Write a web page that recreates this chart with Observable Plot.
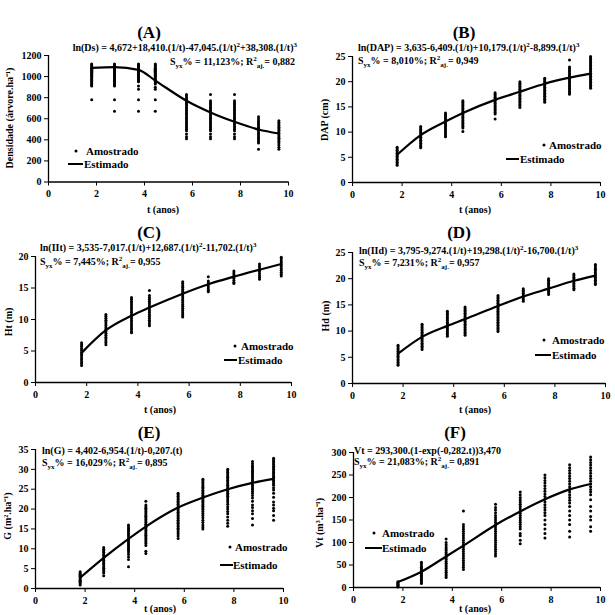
<!DOCTYPE html>
<html><head><meta charset="utf-8">
<script src="https://cdn.jsdelivr.net/npm/d3@7"></script>
<script src="https://cdn.jsdelivr.net/npm/@observablehq/plot@0.6"></script>
<style>
html,body{margin:0;padding:0;background:#fff;overflow:hidden}
#fig{position:relative;width:615px;height:615px;overflow:hidden;font-family:"Liberation Serif","Times New Roman",serif;font-weight:bold;color:#000;background:#fff}
.abs{position:absolute;white-space:nowrap;line-height:1}
.title{font-size:17px;transform:translate(-50%,-50%)}
.eq{font-size:10px;transform:translate(0,-50%)}
.eq.r{transform:translate(-100%,-50%)}
.eq sup,.eq sub{font-size:7px;line-height:0}
.leg{font-size:11px;transform:translate(0,-50%)}
.ylab{font-size:10px;transform:translate(-50%,-50%) rotate(-90deg)}
.xlab{font-size:10px;transform:translate(-50%,-50%)}
.dotk{position:absolute;width:3px;height:3px;border-radius:50%;background:#000;transform:translate(-50%,-50%)}
.linek{position:absolute;height:2px;background:#000;transform:translate(0,-50%)}
.pan{position:absolute}
</style></head>
<body><div id="fig"></div>
<script>
// ages (years) of the measurement columns
const tYears = [1.8, 2.75, 3.75, 4.45, 5.75, 6.75, 7.75, 8.75, 9.6];

// (A) Densidade
const dsObs = [
  [1120,1110,1100,1090,1080,1070,1060,1050,1040,1030,1020,1010,1000,990,980,970,960,950,940,930,920,910,780],
  [1120,1110,1100,1090,1080,1070,1060,1050,1040,1030,1020,1010,1000,990,980,970,960,950,940,930,920,910,780,670],
  [1120,1110,1100,1090,1080,1070,1060,1050,1040,1030,1020,1010,1000,990,980,970,960,950,910,880,780,670],
  [1120,1110,1100,1090,1080,1070,1060,1050,1040,1030,1020,1010,1000,990,980,970,960,950,940,930,900,880,780,670],
  [830,815,800,785,770,755,740,725,710,695,680,665,650,635,620,605,590,575,560,545,530,515,500,485,455,430,410],
  [830,770,755,740,725,710,695,680,665,650,635,620,605,590,575,560,545,530,515,500,485,455,430,410],
  [830,770,755,740,725,710,695,680,665,650,635,620,605,590,575,560,545,530,515,500,485,455,430,410],
  [620,600,580,565,550,535,520,505,490,475,460,445,430,415,400,385,370,310],
  [580,565,550,535,520,505,490,475,460,445,430,415,400,385,370,350,330,310]
];
const dsFit = [1083, 1089, 1064, 962, 771, 660, 571, 498, 460];

// (B) DAP
const dapObs = [
  [7.0,6.7,6.4,6.1,5.8,5.5,5.2,4.9,4.6,4.3,4.0,3.7,3.4],
  [11.1,10.8,10.5,10.2,9.9,9.6,9.3,9.0,8.7,8.4,8.1,7.8,7.5,7.2,6.9],
  [13.8,13.5,13.2,12.9,12.6,12.3,12.0,11.7,11.4,11.1,10.8,10.5,10.2,9.9,9.6,9.3,9.1],
  [16.2,15.9,15.6,15.3,15.0,14.7,14.4,14.1,13.8,13.5,13.2,12.9,12.6,12.3,12.0,11.7,11.4,11.1,10.8,10.1],
  [17.8,17.5,17.2,16.9,16.6,16.3,16.0,15.7,15.4,15.1,14.8,14.5,14.2,13.9,13.6,12.6],
  [20.0,19.7,19.4,19.1,18.8,18.5,18.2,17.9,17.6,17.3,17.0,16.7,16.4,16.1,15.8,15.5,15.2,14.9],
  [20.7,20.4,20.1,19.8,19.5,19.2,18.9,18.6,18.3,18.0,17.7,17.4,17.1,16.8,16.5,16.2,15.9],
  [24.3,22.9,22.6,22.3,22.0,21.7,21.4,21.1,20.8,20.5,20.2,19.9,19.6,19.3,19.0,18.7,18.4,18.1,17.8,17.5],
  [25.0,24.7,24.4,24.1,23.8,23.5,23.2,22.9,22.6,22.3,22.0,21.7,21.4,21.1,20.8,20.5,20.2,19.9,19.6,19.3,19.0,18.7]
];
const dapFit = [5.5, 9.4, 12.1, 13.8, 16.4, 18.0, 19.6, 20.8, 21.6];

// (C) Ht
const htObs = [
  [6.3,6.0,5.7,5.4,5.1,4.8,4.5,4.2,3.9,3.6,3.3,3.0,2.7],
  [10.8,10.5,10.2,9.9,9.6,9.3,9.0,8.7,8.4,8.1,7.8,7.5,7.2,6.9,6.6,6.3,6.0],
  [13.5,13.2,12.9,12.6,12.3,12.0,11.7,11.4,11.1,10.8,10.5,10.2,9.9,9.6,9.3,9.0,8.7,8.4,8.1,7.9],
  [14.6,13.8,13.5,13.2,12.9,12.6,12.3,12.0,11.7,11.4,11.1,10.8,10.5,10.2,9.9,9.6,9.3,9.0],
  [16.0,15.7,15.4,15.1,14.8,14.5,14.2,13.9,13.6,13.3,13.0,12.7,12.4,12.1,11.8,11.5,11.2,10.9,10.6,10.4],
  [16.8,16.1,15.8,15.5,15.2,14.9,14.6,14.4],
  [17.7,17.4,17.1,16.8,16.5,16.2,15.9,15.7],
  [18.8,18.5,18.2,17.9,17.6,17.3,17.0,16.7,16.4],
  [19.9,19.6,19.3,19.0,18.7,18.4,18.1,17.8,17.5,17.2,16.9]
];
const htFit = [4.7, 8.3, 10.6, 11.9, 14.1, 15.6, 16.8, 17.9, 18.8];

// (D) Hd
const hdObs = [
  [7.3,7.0,6.7,6.4,6.1,5.8,5.5,5.2,4.9,4.6,4.3,4.0,3.7,3.5],
  [11.3,11.0,10.7,10.4,10.1,9.8,9.5,9.2,8.9,8.6,8.3,8.0,7.7,7.4,7.1,6.8,6.5],
  [13.8,13.5,13.2,12.9,12.6,12.3,12.0,11.7,11.4,11.1,10.8,10.5,10.2,9.9,9.6,9.3,9.0],
  [14.6,14.3,14.0,13.7,13.4,13.1,12.8,12.5,12.2,11.9,11.6,11.3,11.0,10.7,10.4,10.1,9.8,9.5,9.2],
  [16.8,16.5,16.2,15.9,15.6,15.3,15.0,14.7,14.4,14.1,13.8,13.5,13.2,12.9,12.6,12.3,12.0,11.7,11.4,11.1,10.8,10.5,10.2,9.9],
  [18.1,17.8,17.5,17.2,16.9,16.6,16.3,16.0,15.7],
  [20.0,19.7,19.4,19.1,18.8,18.5,18.2,17.9,17.6,17.3,17.0],
  [20.9,20.6,20.3,20.0,19.7,19.4,19.1,18.8,18.5,18.2,17.9],
  [22.7,22.4,22.1,21.8,21.5,21.2,20.9,20.6,20.3,20.0,19.7,19.4,19.1,18.9]
];
const hdFit = [5.7, 8.9, 11.0, 12.3, 14.8, 16.6, 18.1, 19.6, 20.6];

// (E) G
const gObs = [
  [4.2,3.9,3.6,3.3,3.0,2.7,2.4,2.1,1.8,1.5,1.2,0.9],
  [10.3,9.9,9.5,9.1,8.7,8.3,7.9,7.5,7.1,6.7,6.3,5.9,5.5,5.1,4.7,4.3,3.9,3.2],
  [16.0,15.6,15.2,14.8,14.4,14.0,13.6,13.2,12.8,12.4,12.0,11.6,11.2,10.8,10.4,10.0,9.6,9.2,8.6,8.0,7.3,5.5],
  [22.0,21.0,20.6,20.2,19.8,19.4,19.0,18.6,18.2,17.8,17.4,17.0,16.6,16.2,15.8,15.4,15.0,14.6,14.2,13.8,13.4,13.0,12.6,12.2,11.8,11.3,10.8,9.4,8.8],
  [24.0,23.6,23.2,22.8,22.4,22.0,21.6,21.2,20.8,20.4,20.0,19.6,19.2,18.8,18.4,18.0,17.6,17.2,16.8,16.4,16.0,15.6,15.2,14.8,14.3,13.8,13.2,12.6],
  [27.5,27.1,26.7,26.3,25.9,25.5,25.1,24.7,24.3,23.9,23.5,23.1,22.7,22.3,21.9,21.5,21.1,20.7,20.3,19.9,19.4,18.9,18.4,17.8,17.2,16.6,16.0,15.5,15.0],
  [30.0,29.6,29.2,28.8,28.4,28.0,27.6,27.2,26.8,26.4,26.0,25.6,25.2,24.8,24.4,24.0,23.6,23.2,22.8,22.3,21.8,21.2,20.6,20.0,19.4,18.8,18.0,17.2,16.4,15.7],
  [32.0,31.5,31.0,30.6,30.2,29.8,29.4,29.0,28.6,28.2,27.8,27.4,27.0,26.6,26.2,25.8,25.4,25.0,24.5,24.0,23.4,22.8,22.0,21.0,20.4,19.6,18.8,17.6,16.0],
  [32.8,32.4,32.0,31.6,31.2,30.8,30.4,30.0,29.6,29.2,28.8,28.4,28.0,27.6,27.2,26.8,26.4,26.0,25.4,24.8,24.0,23.0,21.8,21.0,20.2,19.6,18.4,17.2]
];
const gFit = [2.7, 7.7, 12.5, 15.6, 20.4, 22.9, 25.0, 26.6, 27.6];

// (F) Vt
const vtObs = [
  [13,11,9,7,5,3,1],
  [56,52,48,45,42,39,36,33,30,27,24,21,18,15,12,9],
  [108,100,95,90,86,82,78,74,70,66,62,58,54,50,46,42,38,34,30,26,22],
  [170,140,135,130,125,120,115,110,105,100,95,90,85,80,75,70,65,60,55,50,45,40],
  [185,178,172,166,160,155,150,145,140,135,130,125,120,115,110,105,100,95,90,85,80,75,70],
  [212,206,200,195,190,185,180,175,170,165,160,155,150,145,140,135,130,120,115,105,97],
  [250,244,238,232,226,220,214,208,202,196,190,184,178,172,166,160,150,140,130,120,110],
  [273,266,260,254,248,242,236,230,224,218,212,206,200,194,188,180,170,160,150,140,125,112],
  [290,284,278,272,266,260,254,248,242,236,230,224,218,212,206,195,180,170,158,150,135,125]
];
const vtFit = [12, 35, 69, 93, 139, 169, 196, 218, 230];

const xTicks = [0, 2, 4, 6, 8, 10];
const legendLabels = ["Amostrado", "Estimado"];

const panels = [
  {title:"(A)", tp:[149,32], L:0, T:40, W:305, H:180, x0:48, x10:288, yTop:55, yBot:181.5,
   yDomain:[0,1200], yTicks:[0,200,400,600,800,1000,1200], obs:dsObs, fit:dsFit,
   ylab:"Densidade (árvore.ha⁻¹)", yl:[10,118], xl:[163,210],
   eq:[{html:"ln(Ds) = 4,672+18,410.(1/t)-47,045.(1/t)<sup>2</sup>+38,308.(1/t)<sup>3</sup>", x:297, y:48, r:true},
       {html:"S<sub>yx</sub>% = 11,123%; R<sup>2</sup><sub>aj.</sub>= 0,882", x:295, y:62, r:true}],
   leg:{dot:[76,151], t1:86, line:[68,83,164], t2:84}},
  {title:"(B)", tp:[464,32], L:305, T:40, W:310, H:180, x0:352, x10:600, yTop:56, yBot:182,
   yDomain:[0,25], yTicks:[0,5,10,15,20,25], obs:dapObs, fit:dapFit,
   ylab:"DAP (cm)", yl:[325,120], xl:[475,210],
   eq:[{html:"ln(DAP) = 3,635-6,409.(1/t)+10,179.(1/t)<sup>2</sup>-8,899.(1/t)<sup>3</sup>", x:358, y:48},
       {html:"S<sub>yx</sub>% = 8,010%; R<sup>2</sup><sub>aj.</sub>= 0,949", x:358, y:61}],
   leg:{dot:[544,145], t1:549, line:[506,519,159], t2:520}},
  {title:"(C)", tp:[149,232], L:0, T:240, W:305, H:180, x0:35, x10:291, yTop:256, yBot:382,
   yDomain:[0,20], yTicks:[0,5,10,15,20], obs:htObs, fit:htFit,
   ylab:"Ht (m)", yl:[9,322], xl:[160,410],
   eq:[{html:"ln(IIt) = 3,535-7,017.(1/t)+12,687.(1/t)<sup>2</sup>-11,702.(1/t)<sup>3</sup>", x:40, y:248},
       {html:"S<sub>yx</sub>% = 7,445%; R<sup>2</sup><sub>aj.</sub>= 0,955", x:40, y:262}],
   leg:{dot:[235,346], t1:241, line:[224,237,360], t2:238}},
  {title:"(D)", tp:[459,232], L:305, T:240, W:310, H:180, x0:352, x10:605, yTop:252, yBot:383,
   yDomain:[0,25], yTicks:[0,5,10,15,20,25], obs:hdObs, fit:hdFit,
   ylab:"Hd (m)", yl:[326,316], xl:[475,410],
   eq:[{html:"ln(IId) = 3,795-9,274.(1/t)+19,298.(1/t)<sup>2</sup>-16,700.(1/t)<sup>3</sup>", x:359, y:251},
       {html:"S<sub>yx</sub>% = 7,231%; R<sup>2</sup><sub>aj.</sub>= 0,957", x:359, y:263}],
   leg:{dot:[544,340], t1:552, line:[535,551,355], t2:552}},
  {title:"(E)", tp:[149,432], L:0, T:440, W:305, H:175, x0:35, x10:283, yTop:449, yBot:588,
   yDomain:[0,35], yTicks:[0,5,10,15,20,25,30,35], obs:gObs, fit:gFit,
   ylab:"G (m².ha⁻¹)", yl:[8,516], xl:[160,609],
   eq:[{html:"ln(G) = 4,402-6,954.(1/t)-0,207.(t)", x:42, y:451},
       {html:"S<sub>yx</sub>% = 16,029%; R<sup>2</sup><sub>aj.</sub>= 0,895", x:42, y:463}],
   leg:{dot:[230,547], t1:235, line:[220,233,565], t2:233}},
  {title:"(F)", tp:[455,432], L:305, T:440, W:310, H:175, x0:353, x10:600, yTop:452, yBot:587,
   yDomain:[0,300], yTicks:[0,50,100,150,200,250,300], obs:vtObs, fit:vtFit,
   ylab:"Vt (m³.ha⁻¹)", yl:[320,523], xl:[475,609],
   eq:[{html:"Vt = 293,300.(1-exp(-0,282.t))3,470", x:354, y:451},
       {html:"S<sub>yx</sub>% = 21,083%; R<sup>2</sup><sub>aj.</sub>= 0,891", x:354, y:462}],
   leg:{dot:[374,533], t1:382, line:[365,382,548], t2:382}}
];

const fig = document.getElementById("fig");
function addDiv(cls, x, y, html) {
  const d = document.createElement("div");
  d.className = "abs " + cls;
  d.style.left = x + "px"; d.style.top = y + "px";
  d.innerHTML = html;
  fig.appendChild(d);
  return d;
}

for (const p of panels) {
  const pts = [];
  p.obs.forEach((vals, i) => vals.forEach(v => pts.push({t: tYears[i], v})));
  const fit = tYears.map((t, i) => ({t, v: p.fit[i]}));
  const svg = Plot.plot({
    width: p.W, height: p.H,
    marginLeft: p.x0 - p.L, marginRight: p.L + p.W - p.x10,
    marginTop: p.yTop - p.T, marginBottom: p.T + p.H - p.yBot,
    style: {fontFamily: '"Liberation Serif", "Times New Roman", serif', fontSize: "10px", fontWeight: "bold", background: "transparent", color: "#000"},
    x: {domain: [0, 10], ticks: xTicks, tickSize: 4, tickPadding: 4, label: null, tickFormat: d => String(d)},
    y: {domain: p.yDomain, ticks: p.yTicks, tickSize: 4, tickPadding: 3, label: null, tickFormat: d => String(d)},
    marks: [
      Plot.dot(pts, {x: "t", y: "v", r: 1.5, fill: "#000", stroke: "none", clip: false}),
      Plot.line(fit, {x: "t", y: "v", stroke: "#000", strokeWidth: 2.2, curve: "monotone-x"}),
      Plot.ruleX([0], {stroke: "#000", strokeWidth: 1.3}),
      Plot.ruleY([0], {stroke: "#000", strokeWidth: 1.3})
    ]
  });
  const wrap = document.createElement("div");
  wrap.className = "pan";
  wrap.style.left = p.L + "px"; wrap.style.top = p.T + "px";
  wrap.appendChild(svg);
  fig.appendChild(wrap);

  addDiv("title", p.tp[0], p.tp[1], p.title);
  addDiv("ylab", p.yl[0], p.yl[1], p.ylab);
  addDiv("xlab", p.xl[0], p.xl[1], "t (anos)");
  for (const e of p.eq) addDiv("eq" + (e.r ? " r" : ""), e.x, e.y, e.html);
  const dk = document.createElement("div");
  dk.className = "dotk"; dk.style.left = p.leg.dot[0] + "px"; dk.style.top = p.leg.dot[1] + "px";
  fig.appendChild(dk);
  addDiv("leg", p.leg.t1, p.leg.dot[1], legendLabels[0]);
  const lk = document.createElement("div");
  lk.className = "linek"; lk.style.left = p.leg.line[0] + "px"; lk.style.top = p.leg.line[2] + "px";
  lk.style.width = (p.leg.line[1] - p.leg.line[0]) + "px";
  fig.appendChild(lk);
  addDiv("leg", p.leg.t2, p.leg.line[2], legendLabels[1]);
}
</script></body></html>
